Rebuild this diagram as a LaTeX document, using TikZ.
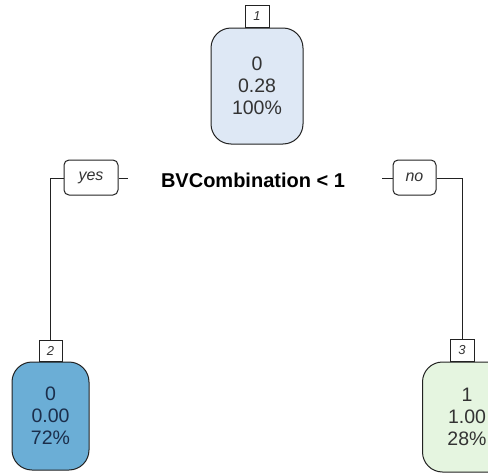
\documentclass[tikz,border=0pt]{standalone}
\usepackage{fontspec}
\setmainfont{Liberation Sans}
\definecolor{rootfill}{HTML}{DEE8F5}
\definecolor{leftfill}{HTML}{6BAED6}
\definecolor{rightfill}{HTML}{E5F5E0}
\definecolor{edge}{HTML}{222222}
\definecolor{txt}{HTML}{333333}
\definecolor{navy}{HTML}{1B2E4B}
\begin{document}
\begin{tikzpicture}[x=1pt,y=-1pt,
  treenode/.style={draw=edge, line width=1pt, rounded corners=20pt, align=center,
    font=\fontsize{19.5}{22}\selectfont, text=txt, inner sep=0pt},
  numlab/.style={draw=edge, line width=1pt, fill=white, minimum width=23pt, minimum height=21pt,
    inner sep=0pt, font=\fontsize{13}{13}\selectfont\itshape, text=txt},
  yesno/.style={draw=edge, line width=1pt, rounded corners=5pt, minimum height=35pt,
    inner sep=0pt, font=\fontsize{16}{16}\selectfont\itshape, text=txt},
  conn/.style={draw=edge, line width=1pt}]
\useasboundingbox (0,0) rectangle (488,474);
\begin{scope}
\clip (0,0) rectangle (488,474);
% root
\node[treenode, fill=rootfill, minimum width=92pt, minimum height=116pt] (root) at (257,86) {0\\0.28\\100\%};
\node[numlab, minimum width=24pt, minimum height=22pt, anchor=south] (lab1) at (root.north) {1};
% split label
\node[font=\fontsize{20}{20}\selectfont\bfseries, text=black] (split) at (253,180) {BVCombination < 1};
% yes / no
\node[yesno, minimum width=54pt] (yes) at (91,177.5) {yes};
\node[yesno, minimum width=43pt] (no) at (414.5,177.5) {no};
% leaves
\node[treenode, fill=leftfill, text=navy, minimum width=77pt, minimum height=108pt] (n2) at (50.5,416) {0\\0.00\\72\%};
\node[numlab, anchor=south] (lab2) at (n2.north) {2};
\node[treenode, fill=rightfill, minimum width=89pt, minimum height=110pt] (n3) at (467,417) {1\\1.00\\28\%};
\coordinate (lab3pos) at (462,362);
\node[numlab, minimum width=24pt, minimum height=22pt, anchor=south] (lab3) at (lab3pos) {3};
% connectors
\coordinate (ytick) at (128,178);
\coordinate (ntick) at (382,178);
\draw[conn] (yes.east |- ytick) -- (ytick);
\draw[conn] (ntick) -- (no.west |- ntick);
\draw[conn] (yes.west |- ytick) -- (lab2.north |- ytick) -- (lab2.north);
\draw[conn] (no.east |- ntick) -- (lab3.north |- ntick) -- (lab3.north);
\end{scope}
\end{tikzpicture}
\end{document}
